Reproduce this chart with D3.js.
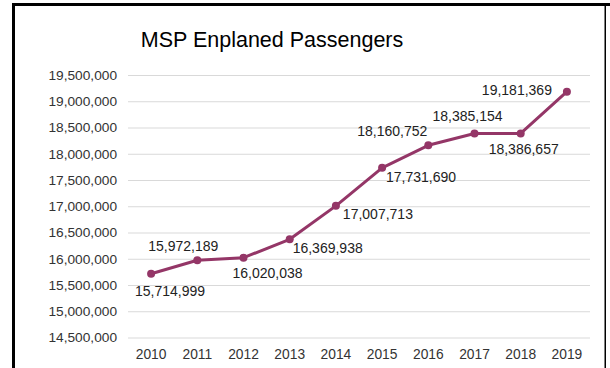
<!DOCTYPE html>
<html>
<head>
<meta charset="utf-8">
<script src="https://cdn.jsdelivr.net/npm/d3@7"></script>
<style>
  html, body { margin: 0; padding: 0; background: #fff; }
  svg { display: block; font-family: "Liberation Sans", Arial, sans-serif; }
</style>
</head>
<body>
<svg id="chart" width="610" height="368"></svg>
<script>
const title = "MSP Enplaned Passengers";
const years = ["2010","2011","2012","2013","2014","2015","2016","2017","2018","2019"];
const passengers = [15714999, 15972189, 16020038, 16369938, 17007713, 17731690, 18160752, 18385154, 18386657, 19181369];
const yTicks = [14500000, 15000000, 15500000, 16000000, 16500000, 17000000, 17500000, 18000000, 18500000, 19000000, 19500000];

// label offsets (dx to text centre, dy to baseline) relative to each point
const labelOffsets = [[19,22],[-14,-9],[24,20],[38,14],[42,13],[39,14],[-36,-9],[-7,-13],[3,21],[-50,3]];

const svg = d3.select("#chart");
const plotL = 128, plotR = 590, plotT = 75, plotB = 337.5;

const x = d3.scaleBand().domain(years).range([plotL, plotR]);
const y = d3.scaleLinear().domain([14500000, 19500000]).range([plotB, plotT]);
const fmt = d3.format(",");

// frame
svg.append("rect").attr("x", 12).attr("y", 3).attr("width", 598).attr("height", 3).attr("fill", "#000");
svg.append("rect").attr("x", 12).attr("y", 3).attr("width", 3).attr("height", 365).attr("fill", "#000");
svg.append("rect").attr("x", 604.5).attr("y", 3).attr("width", 1.5).attr("height", 365).attr("fill", "#000");

// title
svg.append("text").attr("x", 272).attr("y", 47).attr("text-anchor", "middle")
  .attr("font-size", 21.5).attr("fill", "#000").text(title);

// y axis with gridlines
const yAxis = d3.axisLeft(y).tickValues(yTicks).tickFormat(fmt).tickSize(-(plotR - plotL)).tickPadding(11);
const gy = svg.append("g").attr("transform", `translate(${plotL},0)`).call(yAxis);
gy.select(".domain").remove();
gy.selectAll(".tick line").attr("stroke", "#d9d9d9").attr("stroke-width", 1);
gy.selectAll(".tick text").attr("font-size", 13.7).attr("fill", "#333").attr("font-family", "Liberation Sans, Arial, sans-serif");

// x axis
const xAxis = d3.axisBottom(x).tickSize(0).tickPadding(12);
const gx = svg.append("g").attr("transform", `translate(0,${plotB})`).call(xAxis);
gx.select(".domain").remove();
gx.selectAll(".tick text").attr("font-size", 13.8).attr("fill", "#333").attr("font-family", "Liberation Sans, Arial, sans-serif");

const data = years.map((yr, i) => ({ year: yr, value: passengers[i], off: labelOffsets[i] }));
const cx = d => x(d.year) + x.bandwidth() / 2;

svg.append("path").datum(data)
  .attr("fill", "none").attr("stroke", "#943667").attr("stroke-width", 3).attr("stroke-linejoin", "round")
  .attr("d", d3.line().x(cx).y(d => y(d.value)));

svg.selectAll("circle.pt").data(data).join("circle").attr("class", "pt")
  .attr("cx", cx).attr("cy", d => y(d.value)).attr("r", 4).attr("fill", "#943667");

svg.selectAll("text.lbl").data(data).join("text").attr("class", "lbl")
  .attr("x", d => cx(d) + d.off[0]).attr("y", d => y(d.value) + d.off[1])
  .attr("text-anchor", "middle").attr("font-size", 14).attr("fill", "#222")
  .text(d => fmt(d.value));
</script>
</body>
</html>
